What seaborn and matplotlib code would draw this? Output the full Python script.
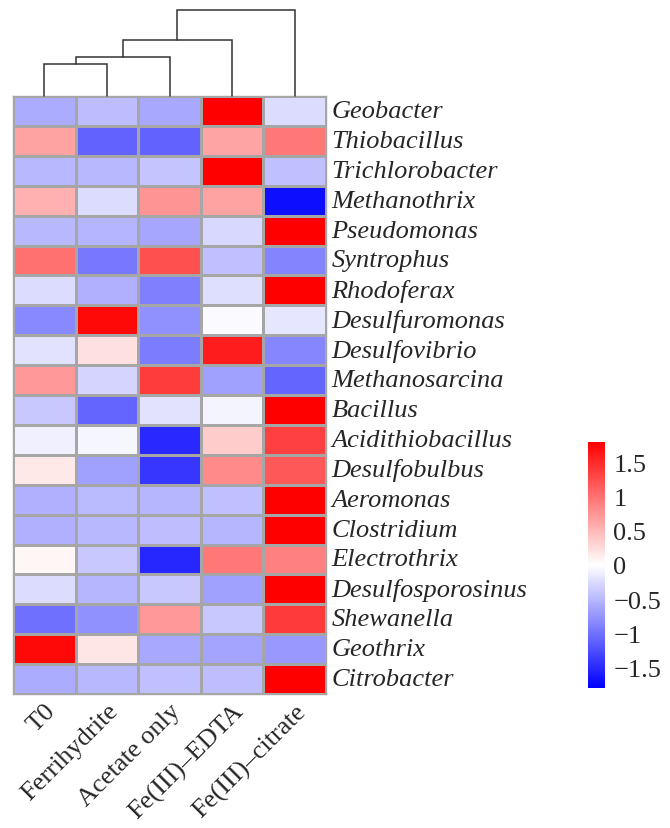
import numpy as np
import pandas as pd
import matplotlib
matplotlib.use("Agg")
import matplotlib.pyplot as plt
import seaborn as sns

genera = ["Geobacter", "Thiobacillus", "Trichlorobacter", "Methanothrix", "Pseudomonas",
          "Syntrophus", "Rhodoferax", "Desulfuromonas", "Desulfovibrio", "Methanosarcina",
          "Bacillus", "Acidithiobacillus", "Desulfobulbus", "Aeromonas", "Clostridium",
          "Electrothrix", "Desulfosporosinus", "Shewanella", "Geothrix", "Citrobacter"]
treatments = ["T0", "Ferrihydrite", "Acetate only", "Fe(III)–EDTA", "Fe(III)–citrate"]

t0           = [-0.59, 0.66, -0.50, 0.56, -0.50, 1.00, -0.25, -0.84, -0.20, 0.72,
                -0.39, -0.11, 0.16, -0.55, -0.55, 0.06, -0.25, -1.00, 1.74, -0.58]
ferrihydrite = [-0.47, -1.11, -0.50, -0.25, -0.53, -0.95, -0.56, 1.74, 0.22, -0.30,
                -1.09, -0.06, -0.67, -0.48, -0.50, -0.39, -0.52, -0.78, 0.18, -0.50]
acetate_only = [-0.61, -1.10, -0.42, 0.75, -0.62, 1.23, -0.89, -0.78, -0.92, 1.37,
                -0.21, -1.51, -1.41, -0.52, -0.46, -1.53, -0.39, 0.72, -0.61, -0.44]
fe_edta      = [1.79, 0.64, 1.79, 0.66, -0.28, -0.45, -0.23, -0.03, 1.59, -0.67,
                -0.08, 0.36, 0.82, -0.45, -0.51, 0.95, -0.67, -0.39, -0.64, -0.46]
fe_citrate   = [-0.25, 0.95, -0.45, -1.70, 1.79, -0.86, 1.79, -0.18, -0.85, -1.09,
                1.79, 1.34, 1.17, 1.79, 1.79, 0.89, 1.79, 1.38, -0.72, 1.79]

# column clustering: (left, right, merge height)
col_links = [(0, 1, 3.2), (5, 2, 3.9), (6, 3, 5.6), (7, 4, 8.6)]

cbar_ticks = [-1.5, -1, -0.5, 0, 0.5, 1, 1.5]
cbar_labels = ["−1.5", "−1", "−0.5", "0", "0.5", "1", "1.5"]

df = pd.DataFrame({treatments[0]: t0, treatments[1]: ferrihydrite,
                   treatments[2]: acetate_only, treatments[3]: fe_edta,
                   treatments[4]: fe_citrate}, index=genera)

sns.set_style("white")
plt.rcParams["font.family"] = ["Liberation Serif", "DejaVu Serif"]

W, H = 670, 829
fig = plt.figure(figsize=(W / 100, H / 100), dpi=100)

def fr(x0, y0, x1, y1):
    return [x0 / W, 1 - y1 / H, (x1 - x0) / W, (y1 - y0) / H]

ax = fig.add_axes(fr(13, 97, 326, 695))
dax = fig.add_axes(fr(13, 11, 326, 97))
cax = fig.add_axes(fr(588, 443, 605, 689))

sns.heatmap(df, ax=ax, cmap="bwr", vmin=-1.8, vmax=1.8, linewidths=0.8,
            linecolor="#A6A6A6", cbar_ax=cax)

ax.yaxis.tick_right()
ax.set_yticklabels(genera, rotation=0, fontsize=19, fontstyle="italic", va="center")
ax.set_xticklabels(treatments, rotation=45, ha="right", rotation_mode="anchor", fontsize=19)
ax.tick_params(axis="both", length=0, pad=4)
for s in ax.spines.values():
    s.set_visible(True)
    s.set_color("#A6A6A6")
    s.set_linewidth(1)
ax.set_xlabel("")
ax.set_ylabel("")

# dendrogram
pos = {i: i + 0.5 for i in range(len(treatments))}
hgt = {i: 0.0 for i in range(len(treatments))}
for k, (a, b, h) in enumerate(col_links):
    xa, xb = pos[a], pos[b]
    dax.plot([xa, xa, xb, xb], [hgt[a], h, h, hgt[b]], color="#333333", lw=1.1,
             clip_on=False, solid_joinstyle="miter")
    pos[len(treatments) + k] = (xa + xb) / 2
    hgt[len(treatments) + k] = h
dax.set_xlim(0, len(treatments))
dax.set_ylim(0, max(h for _, _, h in col_links))
dax.axis("off")

cbar = ax.collections[0].colorbar
cbar.set_ticks(cbar_ticks)
cbar.set_ticklabels(cbar_labels)
cbar.ax.tick_params(length=0, labelsize=19, pad=6)
cbar.outline.set_visible(False)

fig.savefig("out.png", dpi=100)
